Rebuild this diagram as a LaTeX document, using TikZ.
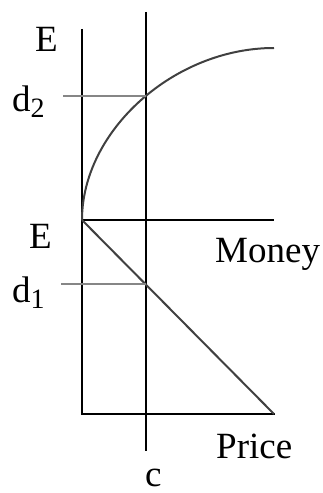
\documentclass[tikz,border=0pt]{standalone}
\usepackage{fontspec}
\setmainfont{Liberation Serif}
\begin{document}
\begin{tikzpicture}[x=1bp,y=-1bp,
  axis/.style={line width=2bp,black},
  guide/.style={line width=2bp,color=gray!95},
  plot/.style={line width=2bp,color=black!75},
  lbl/.style={inner sep=0pt,anchor=base west,font=\fontsize{37bp}{42bp}\selectfont}]
\useasboundingbox (0,0) rectangle (322,493);
% coordinates
\coordinate (Atop) at (82,29);
\coordinate (Abot) at (82,415);
\coordinate (O) at (82,220);
\coordinate (Mend) at (274,220);
\coordinate (P0) at (82,414);
\coordinate (Pend) at (274,414);
\coordinate (Ctop) at (146,12);
\coordinate (Cbot) at (146,451);
\coordinate (Cend) at (274,48);
\coordinate (D2) at (146,96);
\coordinate (D2s) at (63,96);
\coordinate (D1) at (146,284);
\coordinate (D1s) at (61,284);
% axes
\draw[axis] (Atop) -- (Abot);
\draw[axis] (Ctop) -- (Cbot);
\draw[axis] (O) -- (Mend);
\draw[axis,line cap=rect] (P0) -- (Pend);
% curves
\draw[plot] (O) .. controls (82,130.6) and (174.2,48) .. (Cend);
\draw[plot] (O) -- (Pend);
% guides
\draw[guide] (D2s) -- (D2);
\draw[guide] (D1s) -- (D1);
% labels
\node[lbl] (E1) at (35,52) {E};
\node[lbl] (E2) at (29,248) {E};
\node[lbl] (d2) at (12,112) {d\raisebox{-6bp}{\fontsize{28bp}{32bp}\selectfont 2}};
\node[lbl] (d1) at (12,302) {d\raisebox{-6bp}{\fontsize{28bp}{32bp}\selectfont 1}};
\node[lbl] (money) at (215,262.5) {Money};
\node[lbl] (price) at (216,458) {Price};
\node[lbl] (c) at (145,486) {c};
\end{tikzpicture}
\end{document}
